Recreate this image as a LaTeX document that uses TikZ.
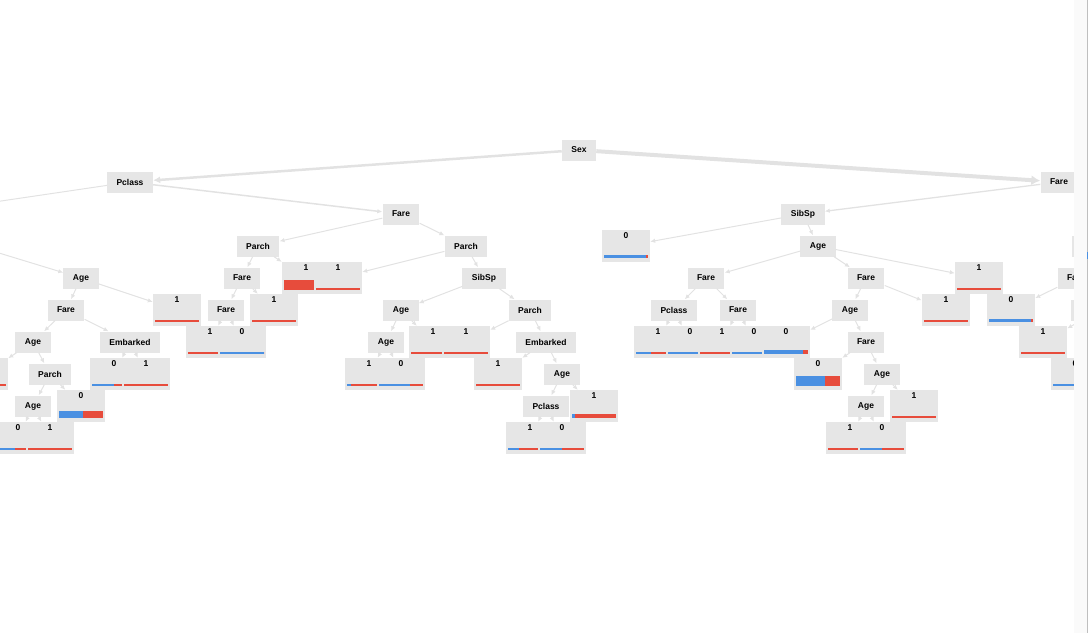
\documentclass[tikz,border=0pt]{standalone}
\usepackage{fontspec}
\setmainfont{Liberation Sans}
\usepackage{tikz}
\usetikzlibrary{arrows.meta}
\definecolor{boxgray}{HTML}{E6E6E6}
\definecolor{edgegray}{HTML}{E2E2E2}
\definecolor{barblue}{HTML}{4A90E2}
\definecolor{barred}{HTML}{E74C3C}
% leaf: name, x, y, class, share of class 0, bar height
\newcommand{\leafnode}[6]{%
  \node[leafbox] (#1) at (#2,#3) {#4};
  \fill[barblue] (#2-22,#3+12) rectangle ++(44*#5,-#6);
  \fill[barred] (#2-22+44*#5,#3+12) rectangle (#2+22,#3+12-#6);
}

\begin{document}
\begin{tikzpicture}[x=1pt, y=-1pt, >={Latex[length=5pt,width=4.5pt]},
  split/.style={fill=boxgray, minimum height=21pt, inner xsep=9.5pt, font=\bfseries\fontsize{8.5}{10}\selectfont},
  leafbox/.style={fill=boxgray, minimum width=48pt, inner ysep=2pt, text height=6.2pt, text depth=21.8pt, font=\bfseries\fontsize{8.5}{10}\selectfont},
  every edge/.append style={draw=edgegray, line width=1pt}]
\useasboundingbox (0,0) rectangle (1090,633);
\begin{scope}
\clip (0,0) rectangle (1074,633);
\node[split] (sex) at (579,150) {Sex};
\node[split] (pclassA) at (130,182) {Pclass};
\node[split] (fareR) at (1059,182) {Fare};
\node[split] (fareA) at (401,214) {Fare};
\node[split] (sibspB) at (803,214) {SibSp};
\node[split] (parchA) at (258,246) {Parch};
\node[split] (parchB) at (466,246) {Parch};
\node[split] (ageG) at (818,246) {Age};
\node[split, minimum width=56pt] (ageR) at (1100,246) {};
\node[split] (ageA) at (81,278) {Age};
\node[split] (fareB) at (242,278) {Fare};
\node[split] (sibspA) at (484,278) {SibSp};
\node[split] (fareE) at (706,278) {Fare};
\node[split] (fareF) at (866,278) {Fare};
\node[split] (fareS) at (1076,278) {Fare};
\node[split] (fareC) at (66,310) {Fare};
\node[split] (fareD) at (226,310) {Fare};
\node[split] (ageB) at (401,310) {Age};
\node[split] (parchC) at (530,310) {Parch};
\node[split] (pclassC) at (674,310) {Pclass};
\node[split] (fareG) at (738,310) {Fare};
\node[split] (ageH) at (850,310) {Age};
\node[split, minimum width=58pt] (ageS) at (1100,310) {};
\node[split] (ageC) at (33,342) {Age};
\node[split] (embA) at (130,342) {Embarked};
\node[split] (ageD) at (386,342) {Age};
\node[split] (embB) at (546,342) {Embarked};
\node[split] (fareH) at (866,342) {Fare};
\node[split] (parchD) at (50,374) {Parch};
\node[split] (ageE) at (562,374) {Age};
\node[split] (ageI) at (882,374) {Age};
\node[split] (ageF) at (33,406) {Age};
\node[split] (pclassB) at (546,406) {Pclass};
\node[split] (ageJ) at (866,406) {Age};
\coordinate (offA) at (-60,210);
\coordinate (offB) at (-60,235);

\leafnode{l1}{-16}{374}{}{0}{1.8}
\leafnode{l2}{177}{310}{1}{0}{1.8}
\leafnode{l3}{114}{374}{0}{0.5}{1.8}
\leafnode{l4}{146}{374}{1}{0}{1.8}
\leafnode{l5}{81}{406}{0}{0.55}{7}
\leafnode{l6}{18}{438}{0}{0.43}{1.8}
\leafnode{l7}{50}{438}{1}{0}{1.8}
\leafnode{l8}{306}{278}{1}{0}{10}
\leafnode{l9}{338}{278}{1}{0}{1.8}
\leafnode{l10}{274}{310}{1}{0}{1.8}
\leafnode{l11}{210}{342}{1}{0}{1.8}
\leafnode{l12}{242}{342}{0}{1}{1.8}
\leafnode{l13}{433}{342}{1}{0}{1.8}
\leafnode{l14}{466}{342}{1}{0}{1.8}
\leafnode{l15}{369}{374}{1}{0.1}{2.5}
\leafnode{l16}{401}{374}{0}{0.7}{1.8}
\leafnode{l17}{498}{374}{1}{0}{1.8}
\leafnode{l18}{594}{406}{1}{0.06}{4}
\leafnode{l19}{530}{438}{1}{0.26}{1.8}
\leafnode{l20}{562}{438}{0}{0.5}{1.8}
\leafnode{l21}{626}{246}{0}{0.96}{3}
\leafnode{l22}{658}{342}{1}{0.35}{1.8}
\leafnode{l23}{690}{342}{0}{1}{1.8}
\leafnode{l24}{722}{342}{1}{0}{1.8}
\leafnode{l25}{754}{342}{0}{1}{1.8}
\leafnode{l26}{786}{342}{0}{0.88}{4}
\leafnode{l27}{818}{374}{0}{0.67}{10}
\leafnode{l28}{914}{406}{1}{0}{1.8}
\leafnode{l29}{850}{438}{1}{0}{1.8}
\leafnode{l30}{882}{438}{0}{0.5}{1.8}
\leafnode{l31}{946}{310}{1}{0}{1.8}
\leafnode{l32}{979}{278}{1}{0}{1.8}
\leafnode{l33}{1011}{310}{0}{0.95}{3}
\leafnode{l34}{1043}{342}{1}{0}{1.8}
\leafnode{l35}{1075}{374}{0}{1}{1.8}

\path[->]
  (sex) edge[line width=2.5pt, -{Latex[length=7pt,width=7pt]}] (pclassA)
  (sex) edge[line width=4pt, -{Latex[length=9pt,width=10pt]}] (fareR)
  (pclassA) edge (offA)
  (pclassA) edge[line width=1.5pt] (fareA)
  (offB) edge (ageA)
  (fareA) edge (parchA)
  (fareA) edge (parchB)
  (parchA) edge (fareB)
  (parchA) edge (l8)
  (parchB) edge (l9)
  (parchB) edge (sibspA)
  (fareB) edge (fareD)
  (fareB) edge (l10)
  (fareD) edge (l11)
  (fareD) edge (l12)
  (sibspA) edge (ageB)
  (sibspA) edge (parchC)
  (ageB) edge (ageD)
  (ageB) edge (l13)
  (parchC) edge (l14)
  (parchC) edge (embB)
  (ageD) edge (l15)
  (ageD) edge (l16)
  (embB) edge (l17)
  (embB) edge (ageE)
  (ageE) edge (pclassB)
  (ageE) edge (l18)
  (pclassB) edge (l19)
  (pclassB) edge (l20)
  (ageA) edge (fareC)
  (ageA) edge (l2)
  (fareC) edge (ageC)
  (fareC) edge (embA)
  (ageC) edge (l1)
  (ageC) edge (parchD)
  (embA) edge (l3)
  (embA) edge (l4)
  (parchD) edge (ageF)
  (parchD) edge (l5)
  (ageF) edge (l6)
  (ageF) edge (l7)
  (fareR) edge[line width=1.3pt] (sibspB)
  (sibspB) edge (l21)
  (sibspB) edge (ageG)
  (ageG) edge (fareE)
  (ageG) edge (fareF)
  (ageG) edge (l32)
  (fareE) edge (pclassC)
  (fareE) edge (fareG)
  (pclassC) edge (l22)
  (pclassC) edge (l23)
  (fareG) edge (l24)
  (fareG) edge (l25)
  (fareF) edge (ageH)
  (fareF) edge (l31)
  (ageH) edge (l26)
  (ageH) edge (fareH)
  (fareH) edge (l27)
  (fareH) edge (ageI)
  (ageI) edge (ageJ)
  (ageI) edge (l28)
  (ageJ) edge (l29)
  (ageJ) edge (l30)
  (ageR) edge (fareS)
  (fareS) edge (l33)
  (ageS) edge (l34)
  (ageS) edge (l35)
  ;
\end{scope}
\fill[gray!4] (1074,0) rectangle (1087,633);
\draw[gray!50, line width=1pt] (1087,0) -- (1087,633);
\fill[barblue] (1086.5,252) rectangle (1088,259);
\end{tikzpicture}
\end{document}
